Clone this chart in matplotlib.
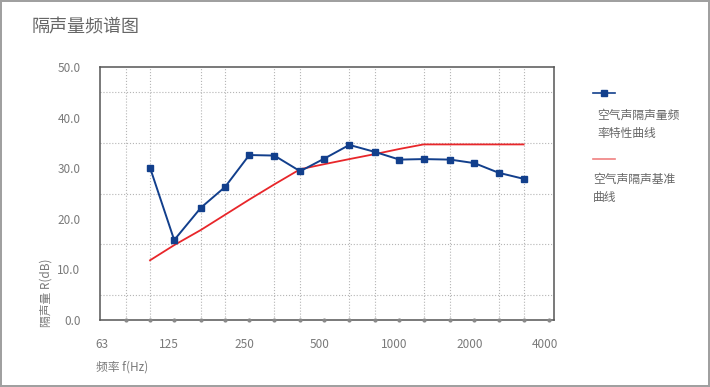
import numpy as np
import matplotlib
matplotlib.use('Agg')
from matplotlib import pyplot as plt
from matplotlib.lines import Line2D
from matplotlib.ticker import NullFormatter
from matplotlib.transforms import ScaledTranslation

plt.rcParams['font.family'] = ['Noto Sans CJK SC', 'DejaVu Sans']

# 1/3-octave centre frequencies (Hz)
freqs = [100, 125, 160, 200, 250, 315, 400, 500, 630, 800,
         1000, 1250, 1600, 2000, 2500, 3150]
# measured airborne sound insulation (dB)
measured = [30.1, 15.8, 22.2, 26.3, 32.6, 32.5, 29.4, 31.9, 34.6, 33.2,
            31.7, 31.8, 31.7, 31.0, 29.1, 27.9]
# shifted reference curve (dB)
reference = [11.8, 14.8, 17.8, 20.8, 23.8, 26.8, 29.8, 30.8, 31.8, 32.8,
             33.8, 34.7, 34.7, 34.7, 34.7, 34.7]

grid_freqs = [80, 100, 125, 160, 200, 250, 315, 400, 500, 630, 800, 1000,
              1250, 1600, 2000, 2500, 3150, 4000]
label_freqs = [63, 125, 250, 500, 1000, 2000, 4000]

blue = '#123f8c'
red = '#e8262a'
grey_txt = '#7a7a7a'

fig = plt.figure(figsize=(7.10, 3.87), dpi=100)
fig.patch.set_edgecolor('#a0a0a0')
fig.patch.set_linewidth(1.5)

ax = fig.add_axes([100 / 710, 1 - 320 / 387, 454 / 710, 253 / 387])
ax.set_xscale('log', base=2)
ax.set_xlim(63, 4170)
ax.set_ylim(0, 50)

ax.plot(freqs, measured, color=blue, lw=1.4, marker='s', ms=4.5,
        markerfacecolor=blue, markeredgecolor=blue, zorder=4)
ax.plot(freqs, reference, color=red, lw=1.3, zorder=3)

# grid
ax.set_xticks(grid_freqs, minor=True)
ax.xaxis.set_minor_formatter(NullFormatter())
ax.set_yticks(np.arange(0, 51, 5), minor=True)
ax.grid(which='minor', axis='both', color='#b5b5b5', ls=':', lw=0.8)
ax.set_axisbelow(True)

ax.set_xticks(label_freqs)
ax.set_xticklabels([str(f) for f in label_freqs])
ax.set_yticks(np.arange(0, 51, 10))
ax.set_yticklabels([f'{v:.1f}' for v in np.arange(0, 51, 10)])
ax.tick_params(axis='both', which='both', length=0, labelsize=8.5,
               labelcolor=grey_txt)
ax.tick_params(axis='x', pad=13)
ax.tick_params(axis='y', pad=14)
for lab in ax.get_xticklabels():
    dx = 0.02 if lab.get_text() == '63' else -0.05
    lab.set_transform(lab.get_transform() + ScaledTranslation(dx, 0, fig.dpi_scale_trans))

# small tick dots along bottom
ax.plot(grid_freqs, [0] * len(grid_freqs), ls='none', marker='o', ms=2,
        color='#888888', clip_on=False, zorder=5)

for s in ax.spines.values():
    s.set_color('#555555')
    s.set_linewidth(1.1)

fig.text(32 / 710, 1 - 27 / 387, '隔声量频谱图', fontsize=13, color='#666666',
         va='center', ha='left')
fig.text(46 / 710, 1 - 327 / 387, '隔声量 R(dB)', fontsize=8.5, color=grey_txt,
         rotation=90, ha='center', va='bottom')
fig.text(96 / 710, 1 - 367 / 387, '频率 f(Hz)', fontsize=8.5, color=grey_txt,
         ha='left', va='center')

# legend drawn by hand
fig.add_artist(Line2D([593 / 710, 615 / 710], [1 - 93 / 387] * 2,
                      color=blue, lw=1.2, transform=fig.transFigure))
fig.add_artist(Line2D([604 / 710], [1 - 93 / 387], color=blue, marker='s',
                      ms=4.5, transform=fig.transFigure))
fig.text(597 / 710, 1 - 124 / 387, '空气声隔声量频\n率特性曲线', fontsize=8.5,
         color='#666666', ha='left', va='center', linespacing=1.5)
fig.add_artist(Line2D([593 / 710, 615 / 710], [1 - 159 / 387] * 2,
                      color='#f08080', lw=1.2, transform=fig.transFigure))
fig.text(593 / 710, 1 - 188 / 387, '空气声隔声基准\n曲线', fontsize=8.5,
         color='#666666', ha='left', va='center', linespacing=1.5)

fig.savefig('out.png', dpi=100)
